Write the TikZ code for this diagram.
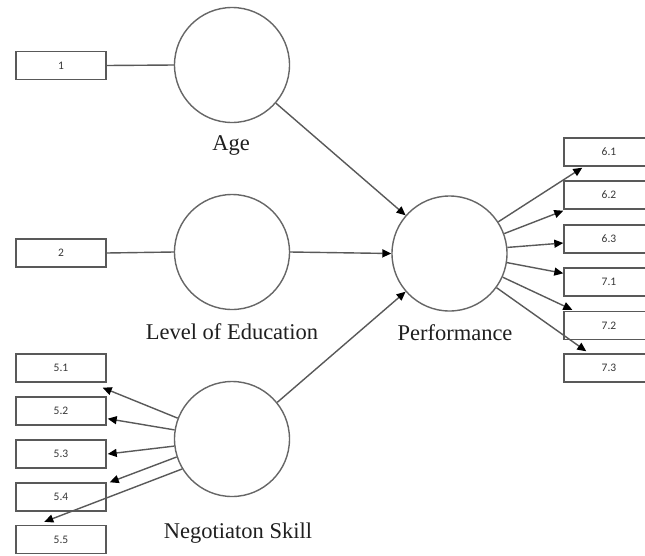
\documentclass[tikz,border=0pt]{standalone}
\usepackage{fontspec}
\setmainfont{Liberation Serif}
\newfontfamily\boxfont{Carlito}
\usetikzlibrary{arrows.meta,calc}

\tikzset{
  edgeline/.style={draw=black!65, line width=1.4pt},
  latent/.style={circle, draw=black!60, line width=1.4pt, minimum size=115pt, inner sep=0pt},
  indicator/.style={rectangle, draw=black!65, line width=1.4pt, minimum width=90pt, minimum height=28pt,
    inner sep=0pt, font=\boxfont\fontsize{11.5}{12}\selectfont, text=black!78},
  caption/.style={font=\fontsize{22.5}{25}\selectfont, text=black!88},
  arr/.style={edgeline, -{Triangle[length=9pt,width=8pt,color=black]}},
}

\begin{document}
\begin{tikzpicture}[x=1pt, y=-1pt]
\useasboundingbox (0,0) rectangle (645,555);
\clip (0,0) rectangle (645,555);
\fill[white] (0,0) rectangle (645,555);

% latent variables
\node[latent] (age) at (232,65) {};
\node[latent] (edu) at (232,252) {};
\node[latent] (neg) at (232,439) {};
\node[latent] (perf) at (449.5,253.5) {};

\node[caption] (agel) at (231,145) {Age};
\node[caption] (edul) at (232,332) {Level of Education};
\node[caption] (negl) at (238,533) {Negotiaton Skill};
\node[caption] (perfl) at (455,333) {Performance};

% indicators on the left
\node[indicator] (b1) at (61,65.5) {1};
\node[indicator] (b2) at (61,253) {2};
\node[indicator] (b51) at (61,368) {5.1};
\node[indicator] (b52) at (61,411) {5.2};
\node[indicator] (b53) at (61,454) {5.3};
\node[indicator] (b54) at (61,497) {5.4};
\node[indicator] (b55) at (61,539.5) {5.5};

% indicators on the right
\node[indicator] (b61) at (609,152) {6.1};
\node[indicator] (b62) at (609,195) {6.2};
\node[indicator] (b63) at (609,239) {6.3};
\node[indicator] (b71) at (609,282) {7.1};
\node[indicator] (b72) at (609,325.5) {7.2};
\node[indicator] (b73) at (609,368) {7.3};

% single-indicator links
\draw[edgeline] (b1.east) -- (age.west);
\draw[edgeline] (b2.east) -- (edu.west);

% structural paths
\draw[arr] (age.-41.6) -- (perf.139);
\draw[arr] (edu.east) -- (perf.west);
\draw[arr] (neg.39.4) -- (perf.221.6);

% reflective indicators of negotiation skill
\draw[arr] (neg.159.8) -- ([shift={(-4,5)}]b51.south east);
\draw[arr] (neg.171) -- ([shift={(1,-7)}]b52.south east);
\draw[arr] (neg.187) -- ([shift={(1,0)}]b53.east);
\draw[arr] (neg.198.4) -- ([shift={(3,0)}]b54.north east);
\draw[arr] (neg.211.4) -- ([shift={(29,-3)}]b55.north west);

% reflective indicators of performance
\draw[arr] (perf.33.6) -- ([shift={(19,1)}]b61.south west);
\draw[arr] (perf.20.3) -- ([shift={(0,1)}]b62.south west);
\draw[arr] (perf.6.4) -- ([shift={(0,4)}]b63.west);
\draw[arr] (perf.-9.4) -- ([shift={(0,6)}]b71.north west);
\draw[arr] (perf.-24.6) -- ([shift={(9,-1)}]b72.north west);
\draw[arr] (perf.-36) -- ([shift={(23,-2)}]b73.north west);
\end{tikzpicture}
\end{document}
